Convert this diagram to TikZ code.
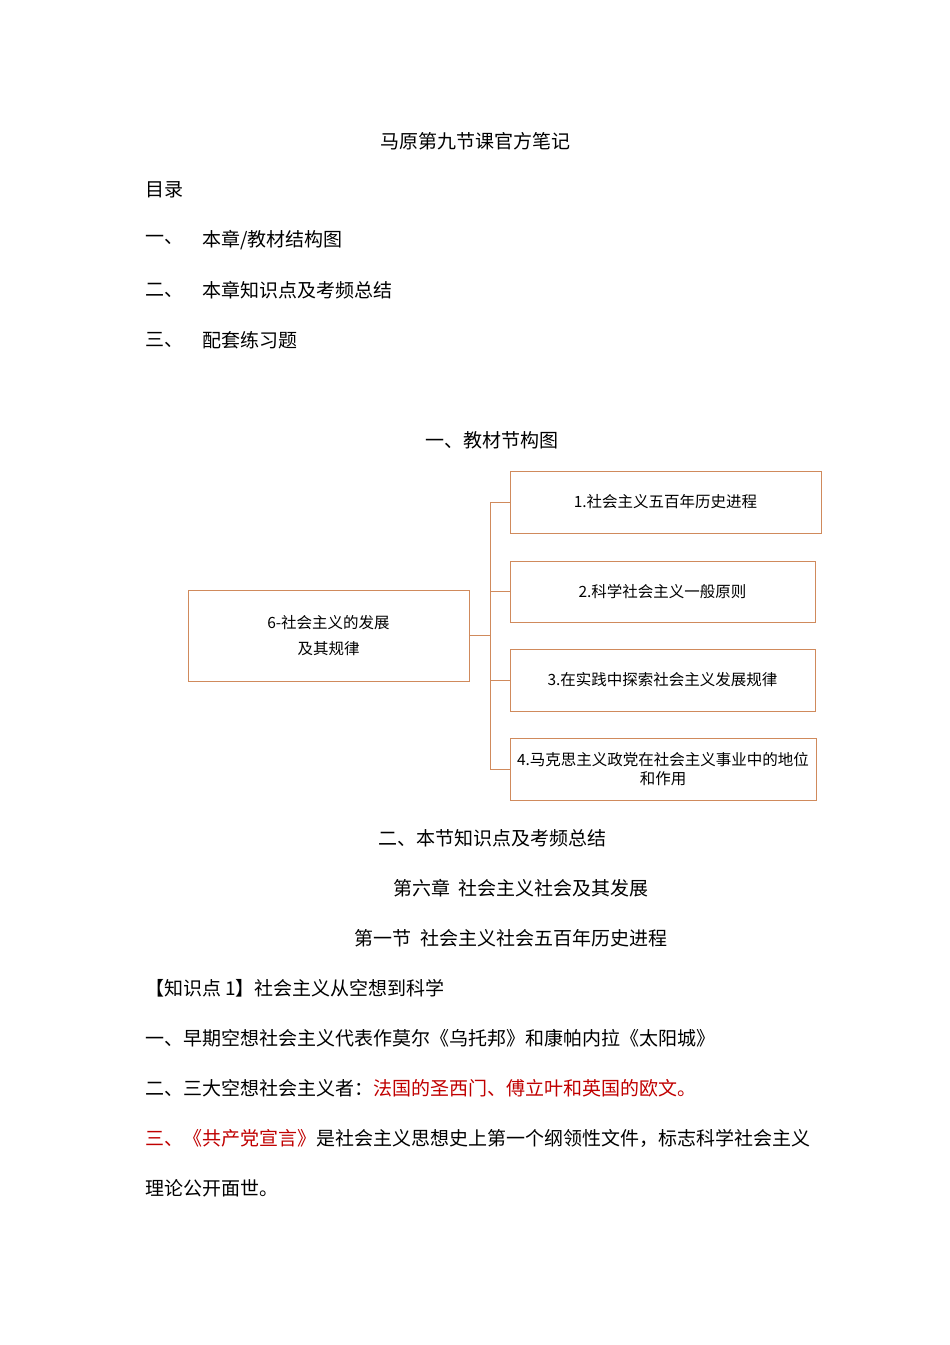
\documentclass[tikz,border=0pt]{standalone}
\usepackage{fontspec}
\setmainfont{Noto Sans CJK SC}
\definecolor{ln}{HTML}{D08A5C}
\definecolor{rd}{HTML}{C00000}
\begin{document}
\begin{tikzpicture}[x=1pt,y=-1pt,
  txt/.style={font=\fontsize{19}{22}\selectfont,inner sep=0pt},
  lt/.style={txt,anchor=west},
  bx/.style={draw=ln,line width=0.8pt,font=\fontsize{15.5}{19}\selectfont,align=center,inner sep=1pt},
  cn/.style={draw=ln,line width=0.8pt}]
\useasboundingbox (0,0) rectangle (950,1345);
\node[txt] (t) at (475,141) {马原第九节课官方笔记};
\node[lt] (ml) at (145,190) {目录};
\node[lt] (a1) at (145,240) {一、};
\node[lt] (a2) at (145,290) {二、};
\node[lt] (a3) at (145,340) {三、};
\node[lt] (b1) at (202,240) {本章/教材结构图};
\node[lt] (b2) at (202,290) {本章知识点及考频总结};
\node[lt] (b3) at (202,340) {配套练习题};
\node[txt] (s1) at (492,440) {一、教材节构图};
\node[bx,minimum width=281,minimum height=91,font=\fontsize{15.5}{26}\selectfont] (L) at (328.5,635.5) {6-社会主义的发展\\及其规律};
\node[bx,minimum width=311,minimum height=62] (R1) at (665.5,502) {1.社会主义五百年历史进程};
\node[bx,minimum width=305,minimum height=61] (R2) at (662.5,591.5) {2.科学社会主义一般原则};
\node[bx,minimum width=305,minimum height=62] (R3) at (662.5,680) {3.在实践中探索社会主义发展规律};
\node[bx,minimum width=306,minimum height=62] (R4) at (663,769) {4.马克思主义政党在社会主义事业中的地位\\和作用};
\coordinate (J) at (490,635.5);
\draw[cn] (L.east) -- (J);
\foreach \r in {R1,R2,R3,R4} \draw[cn] (J) |- (\r.west);
\node[txt] (s2) at (492,838) {二、本节知识点及考频总结};
\node[txt] (s3) at (521,888) {第六章\ \ 社会主义社会及其发展};
\node[txt] (s4) at (511,938) {第一节\ \ 社会主义社会五百年历史进程};
\node[lt] (p1) at (145,988) {【知识点 1】社会主义从空想到科学};
\node[lt] (p2) at (145,1038) {一、早期空想社会主义代表作莫尔《乌托邦》和康帕内拉《太阳城》};
\node[lt] (p3) at (145,1088) {二、三大空想社会主义者：\textcolor{rd}{法国的圣西门、傅立叶和英国的欧文。}};
\node[lt] (p4) at (145,1138) {\textcolor{rd}{三、《共产党宣言》}是社会主义思想史上第一个纲领性文件，标志科学社会主义};
\node[lt] (p5) at (145,1188) {理论公开面世。};
\end{tikzpicture}
\end{document}
